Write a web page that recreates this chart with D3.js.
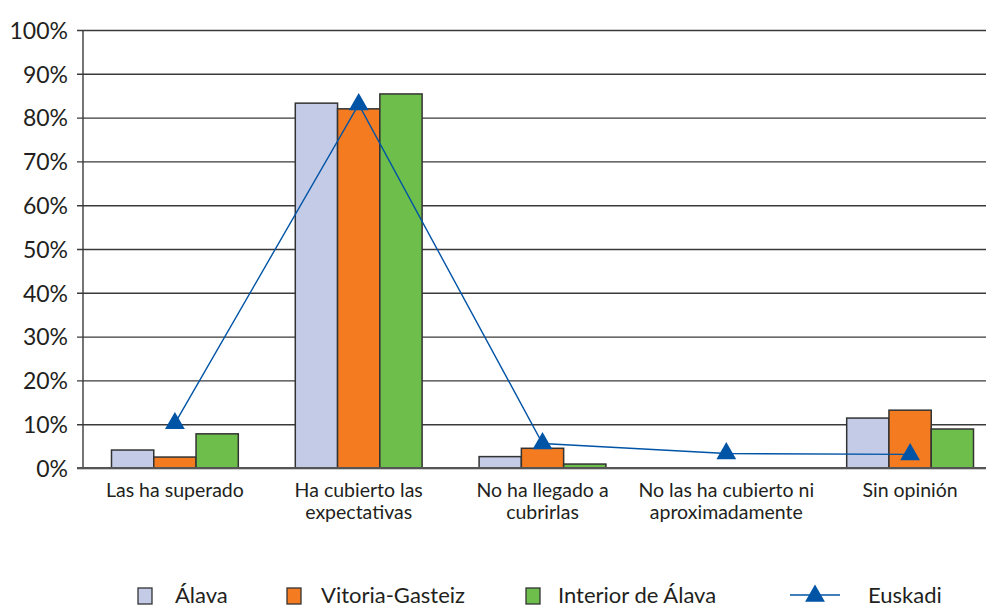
<!DOCTYPE html>
<html>
<head>
<meta charset="utf-8">
<script src="https://cdn.jsdelivr.net/npm/d3@7"></script>
<style>
  body { margin: 0; background: #fff; }
  svg { display: block; font-family: Lato, "Open Sans", sans-serif; }
</style>
</head>
<body>
<svg id="chart" width="990" height="608"></svg>
<script>
// data (percent)
var categories = [
    ["Las ha superado"],
    ["Ha cubierto las", "expectativas"],
    ["No ha llegado a", "cubrirlas"],
    ["No las ha cubierto ni", "aproximadamente"],
    ["Sin opinión"]
];
var seriesNames = ["Álava", "Vitoria-Gasteiz", "Interior de Álava"];
var alava = [4.1, 83.3, 2.6, 0, 11.4];
var vitoria = [2.5, 82.0, 4.5, 0, 13.2];
var interior = [7.8, 85.4, 0.9, 0, 8.9];
var euskadi = [10.2, 83.0, 5.6, 3.3, 3.1];
var yTicks = [0, 10, 20, 30, 40, 50, 60, 70, 80, 90, 100];

var barColors = ["#c3cbe7", "#f47b20", "#6dbe4b"];
var lineColor = "#0054a6";
var ink = "#231f20";

var svg = d3.select("#chart");
var m_left = 83, m_top = 30, m_bottom = 468, gridRight = 986;

var x0 = d3.scaleBand()
        .domain(d3.range(categories.length))
        .range([m_left, 1002]);
var groupW = x0.bandwidth() * 0.69;
var x1 = d3.scaleBand()
        .domain(d3.range(seriesNames.length))
        .range([-groupW / 2, groupW / 2]);
var y = d3.scaleLinear().domain([0, 100]).range([m_bottom, m_top]);

// grid + y axis
var yAxis = d3.axisLeft(y)
        .tickValues(yTicks)
        .tickSize(-(gridRight - m_left))
        .tickPadding(15)
        .tickFormat(function (d) { return d + "%"; });

var gy = svg.append("g")
        .attr("transform", "translate(" + m_left + ",0)")
        .call(yAxis)
        .attr("font-family", null)
        .attr("font-size", null);
gy.select(".domain").remove();
gy.selectAll(".tick line")
        .attr("x1", -6)
        .attr("stroke", "#3a3a3a")
        .attr("stroke-width", 1.4);
gy.selectAll(".tick text")
        .attr("fill", ink)
        .style("font-size", "23px")
        .attr("dy", "0.36em");

svg.append("line")
        .attr("x1", m_left).attr("x2", m_left)
        .attr("y1", m_top).attr("y2", m_bottom)
        .attr("stroke", "#3a3a3a")
        .attr("stroke-width", 1.4);

// bars
var all = [alava, vitoria, interior];
var groups = svg.append("g").selectAll("g")
        .data(categories)
        .join("g")
        .attr("transform", function (d, i) {
            return "translate(" + (x0(i) + x0.bandwidth() / 2) + ",0)";
        });

groups.selectAll("rect")
        .data(function (d, i) {
            return all.map(function (s, k) { return {k: k, v: s[i]}; })
                    .filter(function (o) { return o.v > 0; });
        })
        .join("rect")
        .attr("x", function (d) { return x1(d.k); })
        .attr("width", x1.bandwidth())
        .attr("y", function (d) { return y(d.v); })
        .attr("height", function (d) { return m_bottom - y(d.v); })
        .attr("fill", function (d) { return barColors[d.k]; })
        .attr("stroke", "#333")
        .attr("stroke-width", 1.5);

// baseline
svg.append("line")
        .attr("x1", m_left - 6).attr("x2", gridRight)
        .attr("y1", m_bottom).attr("y2", m_bottom)
        .attr("stroke", "#555")
        .attr("stroke-width", 2);

// category labels
groups.append("text")
        .attr("text-anchor", "middle")
        .attr("fill", ink)
        .style("font-size", "19.5px")
        .selectAll("tspan")
        .data(function (d) { return d; })
        .join("tspan")
        .attr("x", 0)
        .attr("y", function (d, i) { return 497 + i * 22; })
        .text(function (d) { return d; });

// euskadi line
var cx = function (d, i) { return x0(i) + x0.bandwidth() / 2; };
var tri = d3.symbol().type(d3.symbolTriangle).size(170);

svg.append("path")
        .datum(euskadi)
        .attr("fill", "none")
        .attr("stroke", lineColor)
        .attr("stroke-width", 1.4)
        .attr("d", d3.line().x(cx).y(function (d) { return y(d); }));

svg.append("g").selectAll("path")
        .data(euskadi)
        .join("path")
        .attr("transform", function (d, i) {
            return "translate(" + cx(d, i) + "," + y(d) + ")";
        })
        .attr("d", tri)
        .attr("fill", lineColor);

// legend (kept just inside the bottom edge)
var legend = svg.append("g");
var legX = [138, 287, 526];
var txtX = [175, 321, 558];
var legY = 603;
seriesNames.forEach(function (n, k) {
    legend.append("rect")
            .attr("x", legX[k]).attr("y", legY - 15)
            .attr("width", 14).attr("height", 16)
            .attr("fill", barColors[k])
            .attr("stroke", "#333")
            .attr("stroke-width", 1.3);
    legend.append("text")
            .attr("x", txtX[k]).attr("y", legY)
            .attr("fill", ink)
            .style("font-size", "22px")
            .text(n);
});
legend.append("line")
        .attr("x1", 790).attr("x2", 840)
        .attr("y1", legY - 8).attr("y2", legY - 8)
        .attr("stroke", lineColor)
        .attr("stroke-width", 1.6);
legend.append("path")
        .attr("transform", "translate(815," + (legY - 7) + ")")
        .attr("d", tri)
        .attr("fill", lineColor);
legend.append("text")
        .attr("x", 868).attr("y", legY)
        .attr("fill", ink)
        .style("font-size", "22px")
        .text("Euskadi");
</script>
</body>
</html>
